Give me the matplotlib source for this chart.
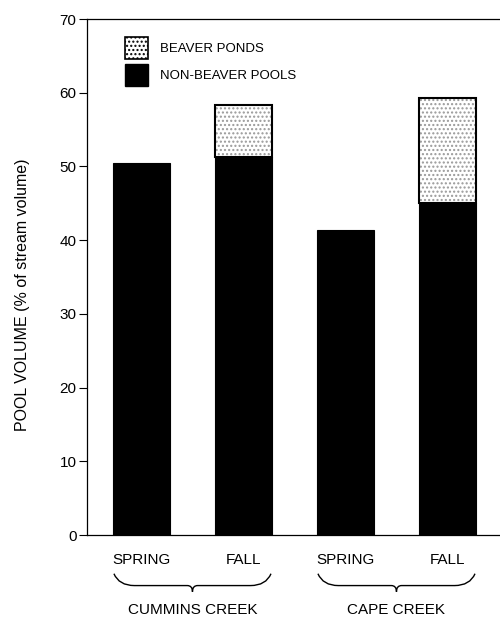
import matplotlib.pyplot as plt
from matplotlib.patches import Patch, PathPatch
from matplotlib.path import Path
import matplotlib.transforms as mtransforms

plt.rcParams['font.family'] = ['Liberation Sans', 'DejaVu Sans']

# data
seasons = ["SPRING", "FALL", "SPRING", "FALL"]
creeks = ["CUMMINS CREEK", "CAPE CREEK"]
non_beaver = [50.5, 51.3, 41.4, 45.0]
beaver = [0.0, 7.1, 0.0, 14.3]

x = list(range(len(seasons)))
width = 0.55

fig = plt.figure(figsize=(5, 6.19), dpi=100)
ax = fig.add_axes([0.174, 0.1357, 0.826, 0.8336])

ax.bar(x, non_beaver, width, color="black", edgecolor="black", linewidth=0.8)
idx = [i for i in x if beaver[i] > 0]
ax.bar([x[i] for i in idx], [beaver[i] for i in idx], width,
       bottom=[non_beaver[i] for i in idx], facecolor="white",
       edgecolor="0.6", hatch="....", linewidth=0)
ax.bar([x[i] for i in idx], [beaver[i] for i in idx], width,
       bottom=[non_beaver[i] for i in idx], fill=False,
       edgecolor="black", linewidth=1.5)

ax.set_xlim(-0.534, 3.515)
ax.set_ylim(0, 70)
ax.set_yticks(range(0, 71, 10))
ax.tick_params(axis="y", direction="out", length=5.5, width=0.8, labelsize=11, pad=2)
ax.set_xticks(x)
ax.set_xticklabels(seasons, fontsize=11)
ax.tick_params(axis="x", length=0, pad=13)
ax.spines["right"].set_visible(False)
for s in ["left", "top", "bottom"]:
    ax.spines[s].set_linewidth(0.9)

ax.set_ylabel("POOL VOLUME (% of stream volume)", fontsize=11.5)
ax.yaxis.set_label_coords(-0.139, 0.465)

# braces under each creek
trans = mtransforms.blended_transform_factory(ax.transData, ax.transAxes)
for k, name in enumerate(creeks):
    x0 = x[2 * k] - 0.27
    x1 = x[2 * k + 1] + 0.27
    xm = (x0 + x1) / 2
    yt, ym, yb = -0.075, -0.098, -0.11
    verts = [(x0, yt), (x0 + 0.05, ym), (x0 + 0.2, ym),
             (xm - 0.05, ym), (xm, ym), (xm, yb),
             (xm, ym), (xm + 0.05, ym), (x1 - 0.2, ym),
             (x1 - 0.05, ym), (x1, yt)]
    codes = [Path.MOVETO, Path.CURVE3, Path.CURVE3,
             Path.LINETO, Path.CURVE3, Path.CURVE3,
             Path.CURVE3, Path.CURVE3, Path.LINETO,
             Path.CURVE3, Path.CURVE3]
    ax.add_patch(PathPatch(Path(verts, codes), transform=trans, fill=False,
                           edgecolor="black", linewidth=1.0, clip_on=False))
    ax.text(xm, -0.145, name, transform=trans, ha="center", va="center",
            fontsize=11)

handles = [Patch(facecolor="white", edgecolor="0.6", hatch="...."),
           Patch(facecolor="black", edgecolor="black")]
leg = ax.legend(handles, ["BEAVER PONDS", "NON-BEAVER POOLS"], loc="upper left",
                bbox_to_anchor=(0.092, 0.965), frameon=False, fontsize=9.5,
                handlelength=1.75, handleheight=2.2, handletextpad=0.9,
                labelspacing=0.35, borderpad=0, borderaxespad=0)
leg.get_patches()[0].set_edgecolor("black")
leg.get_patches()[0].set_linewidth(1.2)

fig.savefig("out.png", dpi=100)
